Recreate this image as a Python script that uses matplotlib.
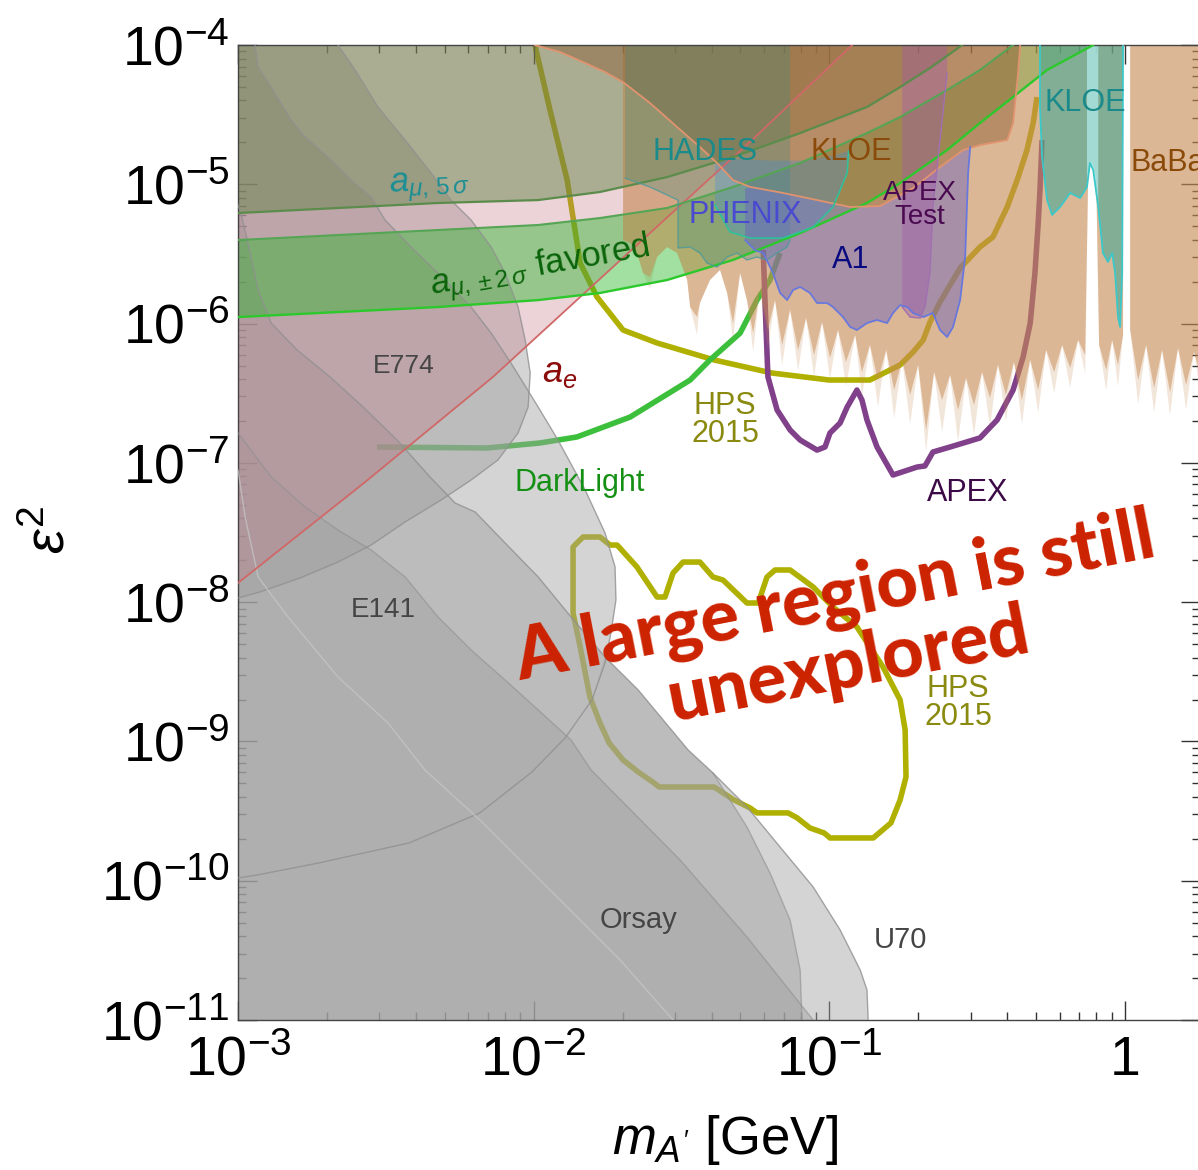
import numpy as np
import matplotlib
matplotlib.use("Agg")
import matplotlib.pyplot as plt
from matplotlib.ticker import LogLocator, NullFormatter

plt.rcParams['font.family'] = ['Liberation Sans', 'DejaVu Sans']
plt.rcParams['mathtext.fontset'] = 'custom'
plt.rcParams['mathtext.rm'] = 'Liberation Sans'
plt.rcParams['mathtext.it'] = 'Liberation Sans:italic'
plt.rcParams['mathtext.bf'] = 'Liberation Sans:bold'

# ---- axes ----
X_TICKS = [1e-3, 1e-2, 1e-1, 1.0]
X_TICKLABELS = [r'$10^{-3}$', r'$10^{-2}$', r'$10^{-1}$', '1']
Y_TICKS = [1e-11, 1e-10, 1e-9, 1e-8, 1e-7, 1e-6, 1e-5, 1e-4]
Y_TICKLABELS = [r'$10^{-11}$', r'$10^{-10}$', r'$10^{-9}$', r'$10^{-8}$',
                r'$10^{-7}$', r'$10^{-6}$', r'$10^{-5}$', r'$10^{-4}$']

# ---- boundaries, log10(m / GeV) and log10(eps^2) ----
ae_lm = [-3.000, -2.570, -2.138, -1.607, -1.262, -0.923]
ae_le = [-7.862, -7.137, -6.383, -5.350, -4.682, -4.000]

amu5_lm = [-3.000, -2.662, -2.324, -1.985, -1.776, -1.549, -1.326, -1.099, -0.873, -0.761, -0.660, -0.551]
amu5_le = [-5.206, -5.170, -5.134, -5.113, -5.055, -4.948, -4.804, -4.632, -4.445, -4.302, -4.165, -4.000]

amu2_up_lm = [-3.000, -2.662, -2.324, -1.985, -1.776, -1.549, -1.326, -1.099, -0.873, -0.761, -0.602, -0.491, -0.379]
amu2_up_le = [-5.400, -5.364, -5.328, -5.292, -5.242, -5.170, -5.019, -4.847, -4.632, -4.517, -4.323, -4.179, -4.000]
amu2_lo_lm = [-3.000, -2.662, -2.324, -1.985, -1.776, -1.549, -1.326, -1.099, -0.873, -0.761, -0.602, -0.491, -0.379, -0.264, -0.108]
amu2_lo_le = [-5.953, -5.917, -5.881, -5.831, -5.780, -5.687, -5.543, -5.350, -5.134, -4.991, -4.754, -4.560, -4.373, -4.179, -4.000]

e774_lm = [-2.662, -2.604, -2.527, -2.435, -2.347, -2.280, -2.212, -2.144, -2.097, -2.053, -2.029, -2.012,
           -2.019, -2.053, -2.121, -2.212, -2.313, -2.435, -2.550, -2.662, -2.790, -2.926, -3.000]
e774_le = [-4.000, -4.179, -4.445, -4.682, -4.919, -5.113, -5.256, -5.450, -5.637, -5.881, -6.118, -6.355,
           -6.599, -6.785, -6.979, -7.123, -7.266, -7.424, -7.590, -7.712, -7.826, -7.927, -7.970]

e141_lm = [-2.943, -2.932, -2.888, -2.821, -2.773, -2.685, -2.618, -2.550, -2.503, -2.415, -2.324, -2.212,
           -2.144, -2.077, -1.985, -1.918, -1.826, -1.759, -1.725, -1.722, -1.739, -1.759, -1.803, -1.894,
           -2.006, -2.182, -2.422, -2.726, -2.936, -3.000]
e141_le = [-4.000, -4.158, -4.302, -4.538, -4.660, -4.826, -4.969, -5.091, -5.256, -5.450, -5.637, -5.881,
           -6.068, -6.283, -6.599, -6.836, -7.195, -7.503, -7.747, -7.984, -8.221, -8.437, -8.702, -8.975,
           -9.219, -9.513, -9.729, -9.872, -9.959, -9.980]

u70_lm = [-3.000, -2.990, -2.956, -2.932, -2.888, -2.800, -2.689, -2.577, -2.462, -2.351, -2.266, -2.198, -2.097,
          -1.985, -1.874, -1.759, -1.647, -1.478, -1.394, -1.279, -1.167, -1.055, -0.964, -0.896, -0.873, -0.869]
u70_le = [-5.149, -5.206, -5.522, -5.759, -5.996, -6.190, -6.383, -6.599, -6.836, -7.101, -7.288, -7.353, -7.575,
          -7.819, -8.106, -8.394, -8.630, -9.061, -9.226, -9.470, -9.758, -10.045, -10.353, -10.641, -10.784, -11.000]

orsay_lm = [-3.000, -2.888, -2.773, -2.662, -2.550, -2.435, -2.324, -2.212, -2.097, -1.985, -1.874, -1.806,
            -1.505, -1.279, -1.055]
orsay_le = [-6.785, -7.101, -7.317, -7.482, -7.625, -7.819, -8.106, -8.343, -8.559, -8.774, -8.989, -9.205,
            -9.851, -10.404, -11.000]
inner_lm = [-3.000, -2.976, -2.932, -2.831, -2.662, -2.493, -2.368, -2.182, -1.911, -1.708, -1.529]
inner_le = [-7.051, -7.388, -7.819, -8.106, -8.537, -8.867, -9.205, -9.564, -10.138, -10.569, -11.000]

e137_lm = [-1.759, -1.647, -1.478, -1.394, -1.279, -1.201, -1.133, -1.099, -1.093, -3.000, -3.000, -2.936,
           -2.726, -2.422, -2.182, -2.006, -1.894, -1.803]
e137_le = [-8.394, -8.630, -9.061, -9.226, -9.614, -9.944, -10.282, -10.641, -11.000, -11.000, -9.980, -9.959,
           -9.872, -9.729, -9.513, -9.219, -8.975, -8.702]

kloe_lm = [-1.996, -1.911, -1.826, -1.759, -1.698, -1.607, -1.515, -1.438, -1.380, -1.326, -1.268, -1.157,
           -1.042, -0.930, -0.829, -0.717, -0.626, -0.548, -0.491, -0.399, -0.379, -0.362, -0.355]
kloe_le = [-4.000, -4.050, -4.129, -4.194, -4.266, -4.416, -4.589, -4.732, -4.847, -4.969, -5.019, -5.062,
           -5.113, -5.163, -5.156, -5.027, -4.876, -4.754, -4.718, -4.682, -4.560, -4.201, -4.000]

babar1_lm = [-1.698, -1.698, -1.674, -1.651, -1.630, -1.607, -1.583, -1.549, -1.515, -1.481, -1.471, -1.448,
             -1.438, -1.404, -1.370, -1.346, -1.326, -1.302, -1.279, -1.258, -1.235, -1.208, -1.184, -1.160,
             -1.133, -1.106, -1.079, -1.052, -1.025, -0.998, -0.971, -0.944, -0.913, -0.890, -0.863, -0.836,
             -0.808, -0.781, -0.754, -0.727, -0.700, -0.673, -0.646, -0.619, -0.592, -0.565, -0.538, -0.511,
             -0.484, -0.457, -0.430, -0.403, -0.376, -0.349, -0.321, -0.294, -0.267, -0.240, -0.213, -0.186,
             -0.159, -0.135, -0.125, -0.112, -0.098, -0.088, -0.064, -0.044, -0.024, -0.007, -0.007]
babar1_le = [-4.000, -5.400, -5.421, -5.493, -5.637, -5.666, -5.522, -5.450, -5.493, -5.687, -5.881, -5.953,
             -5.852, -5.687, -5.615, -5.780, -5.996, -5.637, -5.831, -6.068, -5.759, -6.046, -5.831, -6.154,
             -5.902, -6.190, -5.960, -6.226, -5.989, -6.247, -6.046, -6.276, -6.082, -6.348, -6.154, -6.405,
             -6.190, -6.477, -6.261, -6.513, -6.297, -6.764, -6.348, -6.549, -6.369, -6.620, -6.391, -6.584,
             -6.348, -6.534, -6.297, -6.513, -6.276, -6.549, -6.261, -6.477, -6.190, -6.348, -6.154, -6.319,
             -6.118, -6.226, -4.933, -4.826, -4.933, -6.154, -6.333, -6.118, -6.297, -6.082, -4.000]
# faint tips of the BaBar spikes
babar1_tail_le = [-4.000, -5.400, -5.421, -5.493, -5.637, -5.750, -5.522, -5.450, -5.493, -5.687, -5.881, -6.080,
                  -5.852, -5.687, -5.615, -5.780, -6.120, -5.637, -5.831, -6.200, -5.759, -6.180, -5.831, -6.300,
                  -5.902, -6.340, -5.960, -6.380, -5.989, -6.400, -6.046, -6.450, -6.082, -6.520, -6.154, -6.600,
                  -6.190, -6.680, -6.261, -6.720, -6.297, -6.920, -6.348, -6.780, -6.369, -6.850, -6.391, -6.800,
                  -6.348, -6.740, -6.297, -6.700, -6.276, -6.720, -6.261, -6.640, -6.190, -6.500, -6.154, -6.460,
                  -6.118, -6.360, -4.933, -4.826, -4.933, -6.154, -6.480, -6.118, -6.450, -6.082, -4.000]
babar2_lm = [0.017, 0.017, 0.044, 0.071, 0.098, 0.125, 0.152, 0.179, 0.206, 0.233, 0.260, 0.260]
babar2_le = [-4.000, -6.046, -6.405, -6.154, -6.462, -6.190, -6.491, -6.175, -6.441, -6.204, -6.405, -4.000]
babar2_tail_le = [-4.000, -6.046, -6.580, -6.154, -6.640, -6.190, -6.660, -6.175, -6.620, -6.204, -6.560, -4.000]

hades_lm = [-1.691, -1.691, -1.607, -1.512, -1.512, -1.471, -1.438, -1.414, -1.380, -1.346, -1.312, -1.279,
            -1.245, -1.211, -1.177, -1.143, -1.133, -1.133]
hades_le = [-4.000, -4.955, -5.019, -5.113, -5.457, -5.450, -5.493, -5.565, -5.594, -5.522, -5.493, -5.543,
            -5.522, -5.543, -5.493, -5.450, -5.400, -4.000]

phenix_lm = [-1.387, -1.336, -1.268, -1.157, -1.055, -0.988, -0.940, -0.935, -1.000, -1.100, -1.200, -1.300, -1.387]
phenix_le = [-5.149, -5.342, -5.386, -5.386, -5.307, -5.163, -4.919, -4.760, -4.800, -4.830, -4.830, -4.820, -4.833]

a1_lm = [-1.285, -1.285, -1.252, -1.224, -1.191, -1.167, -1.143, -1.123, -1.099, -1.066, -1.042, -1.008,
         -0.988, -0.954, -0.930, -0.907, -0.873, -0.839, -0.805, -0.785, -0.761, -0.737, -0.717, -0.683,
         -0.650, -0.626, -0.602, -0.582, -0.558, -0.541, -0.531, -0.524, -0.548, -0.626, -0.717, -0.829,
         -0.930, -1.042, -1.157, -1.268]
a1_le = [-5.030, -5.400, -5.472, -5.493, -5.637, -5.780, -5.831, -5.759, -5.737, -5.780, -5.852, -5.852,
         -5.881, -5.953, -6.024, -6.046, -5.996, -5.974, -5.996, -5.924, -5.867, -5.881, -5.924, -5.953,
         -5.924, -6.046, -6.096, -6.024, -5.831, -5.522, -4.919, -4.732, -4.754, -4.876, -5.027, -5.156,
         -5.163, -5.113, -5.062, -5.019]

apext_lm = [-0.754, -0.754, -0.727, -0.693, -0.677, -0.660, -0.650, -0.626, -0.602, -0.602]
apext_le = [-4.000, -5.881, -5.953, -5.960, -5.881, -5.637, -5.163, -4.682, -4.201, -4.000]

kloe2_lm = [-0.288, -0.288, -0.281, -0.264, -0.247, -0.220, -0.186, -0.152, -0.129, -0.119, -0.108, -0.091,
            -0.075, -0.058, -0.044, -0.034, -0.024, -0.017, -0.010, -0.007]
kloe2_le = [-4.000, -4.445, -4.804, -5.113, -5.220, -5.163, -5.062, -5.098, -5.019, -4.847, -4.897, -5.163,
            -5.493, -5.558, -5.493, -5.637, -5.953, -6.024, -5.637, -4.000]
kloe2_strip_lm = [-0.129, -0.129, -0.119, -0.108, -0.091, -0.091]
kloe2_strip_le = [-4.000, -5.019, -4.847, -4.897, -5.163, -4.000]

# projected reaches
hps_up_lm = [-1.996, -1.945, -1.887, -1.843, -1.786, -1.698, -1.583, -1.390, -1.194, -1.001, -0.863, -0.761,
             -0.717, -0.683, -0.660, -0.626, -0.558, -0.491, -0.447, -0.399, -0.365, -0.332, -0.311, -0.298]
hps_up_le = [-4.000, -4.467, -4.969, -5.565, -5.809, -6.046, -6.139, -6.261, -6.355, -6.405, -6.405, -6.297,
             -6.204, -6.118, -5.989, -5.845, -5.601, -5.450, -5.378, -5.163, -4.969, -4.754, -4.560, -4.373]

hps_lo_lm = [-1.854, -1.833, -1.776, -1.742, -1.718, -1.651, -1.583, -1.556, -1.529, -1.495, -1.438, -1.394,
             -1.360, -1.279, -1.241, -1.211, -1.184, -1.133, -1.055, -0.988, -0.907, -0.819, -0.761, -0.744,
             -0.741, -0.761, -0.792, -0.852, -0.998, -1.018, -1.066, -1.109, -1.140, -1.245, -1.268, -1.323,
             -1.390, -1.576, -1.593, -1.647, -1.698, -1.745, -1.776, -1.810, -1.843, -1.867, -1.867, -1.854]
hps_lo_le = [-7.575, -7.532, -7.532, -7.590, -7.590, -7.747, -7.963, -7.963, -7.791, -7.712, -7.712, -7.819,
             -7.841, -8.006, -8.006, -7.819, -7.769, -7.769, -7.891, -8.035, -8.178, -8.465, -8.702, -8.918,
             -9.255, -9.420, -9.585, -9.693, -9.693, -9.657, -9.621, -9.549, -9.513, -9.513, -9.478, -9.420,
             -9.327, -9.327, -9.298, -9.219, -9.133, -9.011, -8.867, -8.681, -8.322, -8.078, -7.604, -7.575]

darklight_lm = [-2.530, -2.158, -1.979, -1.854, -1.674, -1.471, -1.404, -1.302, -1.245, -1.201, -1.167]
darklight_le = [-6.886, -6.893, -6.857, -6.814, -6.671, -6.405, -6.261, -6.068, -5.831, -5.687, -5.493]

apex_lm = [-1.224, -1.218, -1.208, -1.177, -1.133, -1.099, -1.042, -1.015, -0.998, -0.964, -0.940, -0.907,
           -0.890, -0.873, -0.839, -0.785, -0.704, -0.677, -0.650, -0.592, -0.491, -0.433, -0.379, -0.345,
           -0.321, -0.305, -0.294, -0.288, -0.281]
apex_le = [-5.472, -5.831, -6.383, -6.620, -6.764, -6.836, -6.908, -6.886, -6.785, -6.714, -6.599, -6.477,
           -6.549, -6.692, -6.886, -7.087, -7.030, -7.022, -6.922, -6.886, -6.821, -6.692, -6.477, -6.240,
           -5.996, -5.637, -5.278, -5.041, -4.682]


def P(lm, le):
    return 10 ** np.asarray(lm, float), 10 ** np.asarray(le, float)


fig = plt.figure(figsize=(11.98, 11.70), dpi=100)
ax = fig.add_axes([0.1987, 0.1282, 0.8030, 0.8333])
ax.set_xscale('log')
ax.set_yscale('log')
ax.set_xlim(1e-3, 10 ** 0.2533)
ax.set_ylim(1e-11, 1e-4)


def region(lm, le, fc, alpha, z=2):
    x, y = P(lm, le)
    ax.fill(x, y, facecolor=fc, alpha=alpha, lw=0, zorder=z)


def edge(lm, le, color, lw=1.0, alpha=1.0, z=2.6):
    x, y = P(lm, le)
    ax.plot(x, y, color=color, lw=lw, alpha=alpha, zorder=z, solid_joinstyle='round')


def curve(lm, le, color, lw=4.0):
    x, y = P(lm, le)
    ax.plot(x, y, color=color, lw=lw, zorder=1.5, solid_joinstyle='round', solid_capstyle='butt')


# thick projection curves sit underneath the shaded regions
curve(hps_up_lm, hps_up_le, '#b0b000')
curve(hps_lo_lm, hps_lo_le, '#b0b000')
curve(darklight_lm, darklight_le, '#3cc03c')
curve(apex_lm, apex_le, '#80408a')

# beam dumps
gray = '#a0a0a0'
ga = 0.45
region(u70_lm + [-3.0], u70_le + [-11.0], gray, ga)
region(e141_lm + [-3.0], e141_le + [-4.0], gray, ga)
region(e774_lm + [-3.0], e774_le + [-4.0], gray, ga)
region(orsay_lm + [-3.0], orsay_le + [-11.0], gray, ga)
region(e137_lm, e137_le, gray, ga)
gcol = '#909090'
edge(u70_lm, u70_le, gcol, 1.0, 0.8)
edge(e141_lm, e141_le, gcol, 1.0, 0.8)
edge(e774_lm, e774_le, gcol, 1.0, 0.8)
edge(orsay_lm, orsay_le, gcol, 1.0, 0.6)
edge(inner_lm, inner_le, '#c8c8c8', 1.0, 0.7)
edge(e137_lm[3:9], e137_le[3:9], gcol, 1.0, 0.6)

# g-2
region(ae_lm + [-3.0], ae_le + [-4.0], '#c07080', 0.30)
edge(ae_lm, ae_le, '#d06868', 1.3)
region(amu5_lm + [-3.0], amu5_le + [-4.0], '#5e803f', 0.45)
edge(amu5_lm, amu5_le, '#5b8c4b', 1.6)
region(amu2_lo_lm + amu2_up_lm[::-1], amu2_lo_le + amu2_up_le[::-1], '#22b622', 0.42)
edge(amu2_up_lm, amu2_up_le, '#55a555', 1.5)
edge(amu2_lo_lm, amu2_lo_le, '#2cc82c', 1.7)

# collider / fixed target
region(babar1_lm, babar1_tail_le, '#c88a52', 0.22, z=1.9)
region(babar2_lm, babar2_tail_le, '#c88a52', 0.22, z=1.9)
region(babar1_lm, babar1_le, '#c88a52', 0.50)
region(babar2_lm, babar2_le, '#c88a52', 0.50)
region(kloe_lm, kloe_le, '#8a5a30', 0.45)
edge(kloe_lm, kloe_le, '#e0936e', 1.3)
region(hades_lm, hades_le, '#2f8c7e', 0.28)
edge(hades_lm[1:-1], hades_le[1:-1], '#4a9a9a', 1.0, 0.8)
region(phenix_lm, phenix_le, '#3a8ee0', 0.30)
edge(phenix_lm[:8], phenix_le[:8], '#30c09a', 1.2)
region(a1_lm, a1_le, '#6a5fc0', 0.45)
edge(a1_lm[1:32], a1_le[1:32], '#6878dc', 1.3)
region(apext_lm, apext_le, '#a05aa8', 0.40)
edge(apext_lm[1:-1], apext_le[1:-1], '#a070b0', 1.0)
region(kloe2_lm, kloe2_le, '#3aa898', 0.55)
region(kloe2_strip_lm, kloe2_strip_le, '#b0eaea', 0.75, z=2.2)
edge(kloe2_lm, kloe2_le, '#3cc8c8', 1.3)

# ---- labels ----
def lab(lm, le, s, color, size=22, **kw):
    ax.text(10 ** lm, 10 ** le, s, color=color, fontsize=size, ha='center', va='center',
            zorder=5, **kw)


lab(-2.439, -6.304, 'E774', '#454545', 19)
lab(-2.510, -8.056, 'E141', '#454545', 20)
lab(-1.647, -10.282, 'Orsay', '#454545', 21)
lab(-0.761, -10.425, 'U70', '#454545', 21)
lab(-1.911, -6.348, r'$a_e$', '#8b0a0a', 26)
lab(-2.351, -5.012, r'$a_{\mu,\,5\,\sigma}$', '#1a8f94', 25, rotation=3, rotation_mode='anchor')
lab(-1.979, -5.601, r'$a_{\mu,\pm 2\,\sigma}$ favored', '#0a640a', 25, rotation=10, rotation_mode='anchor')
lab(-1.843, -7.144, 'DarkLight', '#159015', 22)
lab(-1.353, -6.692, 'HPS\n2015', '#8a8a10', 22, linespacing=0.9)
lab(-0.565, -8.724, 'HPS\n2015', '#8a8a10', 22, linespacing=0.9)
lab(-0.531, -7.216, 'APEX', '#3c0a46', 22)
lab(-1.421, -4.768, 'HADES', '#1a8a8a', 22)
lab(-0.927, -4.768, 'KLOE', '#8a4a0a', 22)
lab(-1.285, -5.220, 'PHENIX', '#4a4ad0', 22)
lab(-0.694, -5.149, 'APEX\nTest', '#4a0a50', 20, linespacing=0.9)
lab(-0.927, -5.543, 'A1', '#0a0a80', 22)
lab(-0.136, -4.416, 'KLOE', '#1a8a8a', 22)
ax.text(10 ** 0.017, 10 ** -4.847, 'BaBar', color='#8a4a0a', fontsize=22, ha='left', va='center',
        zorder=5, clip_on=True)

big = dict(color='#cc2200', fontsize=52, fontweight='black', family=['Lato', 'Liberation Sans'],
           ha='center', va='center', rotation=11, rotation_mode='anchor', zorder=6)
ax.text(10 ** -0.981, 10 ** -7.977, 'A large region is still', **big)
ax.text(10 ** -0.937, 10 ** -8.460, 'unexplored', **big)

# ---- axes cosmetics ----
ax.set_xticks(X_TICKS)
ax.set_xticklabels(X_TICKLABELS)
ax.set_yticks(Y_TICKS)
ax.set_yticklabels(Y_TICKLABELS)
ax.xaxis.set_minor_locator(LogLocator(base=10, subs=np.arange(2, 10), numticks=50))
ax.yaxis.set_minor_locator(LogLocator(base=10, subs=np.arange(2, 10), numticks=50))
ax.xaxis.set_minor_formatter(NullFormatter())
ax.yaxis.set_minor_formatter(NullFormatter())
ax.tick_params(which='both', direction='in', top=True, right=True, width=1.0, color='#333333')
ax.tick_params(which='major', length=14, labelsize=40, pad=6)
ax.tick_params(which='minor', length=6)
ax.tick_params(axis='x', which='major', pad=11)
for s in ax.spines.values():
    s.set_color('#444444')
    s.set_linewidth(1.0)

ax.set_xlabel(r"$m_{A'}$ [GeV]", fontsize=38)
ax.xaxis.set_label_coords(0.506, -0.095)
ax.xaxis.label.set_va('top')
ax.set_ylabel(r'$\varepsilon^2$', fontsize=40)
ax.yaxis.set_label_coords(-0.195, 0.503)
ax.yaxis.label.set_va('center')

fig.savefig('out.png', dpi=100)
